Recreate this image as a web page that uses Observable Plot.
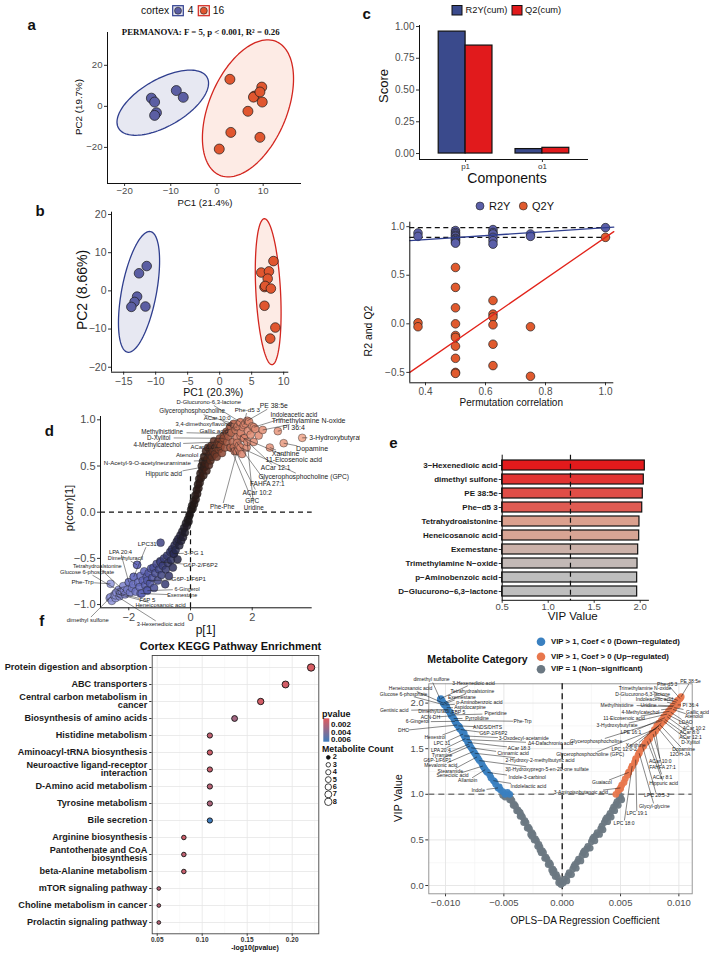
<!DOCTYPE html>
<html><head><meta charset="utf-8">
<script src="https://cdn.jsdelivr.net/npm/d3@7"></script>
<script src="https://cdn.jsdelivr.net/npm/@observablehq/plot@0.6"></script>
<style>
body{margin:0;background:#fff;}
#root{position:relative;width:709px;height:955px;overflow:hidden;background:#fff;font-family:"Liberation Sans",Arial,Helvetica,sans-serif;color:#000;}
.abs{position:absolute;white-space:nowrap;line-height:1;}
</style></head><body><div id="root"></div>
<script>
// ======================= DATA =======================
// (a) PCA, cortex groups 4 and 16
const aPC1_4 = [-14.2,-13.5,-13.1,-13.5,-8.8,-7.3];
const aPC2_4 = [4.0,2.1,-3.1,-4.4,7.7,4.4];
const aPC1_16 = [2.8,9.7,8.1,7.9,9.3,9.8,6.7,3.0,9.3,0.5];
const aPC2_16 = [13.2,9.4,5.0,4.5,7.0,2.1,-2.4,-12.7,-15.1,-20.8];
const aTicksX = [-20,-10,0,10], aTicksY = [-20,0,20];
const aTitle = "PERMANOVA: F = 5, p < 0.001, R\u00B2 = 0.26";
// (b) second PCA
const bPC1_4 = [-11.4,-12.6,-12.9,-13.3,-13.8,-11.6];
const bPC2_4 = [6.5,4.6,-1.5,-2.9,-4.2,-4.1];
const bPC1_16 = [8.4,6.5,7.7,7.5,7.0,7.1,8.0,7.0,8.7,7.9];
const bPC2_16 = [7.8,4.8,5.1,3.2,1.0,1.3,0.6,-3.9,-9.6,-12.5];
const bTicksX = [-15,-10,-5,0,5,10], bTicksY = [-20,-10,0,10,20];
// (c) model scores
const cComponents = ["p1","o1"];
const cSeries = ["R2Y(cum)","Q2(cum)"];
const cR2Y = [0.96,0.035];
const cQ2 = [0.85,0.045];
const cTicksY = [0,0.25,0.5,0.75,1];
// permutation test
const permX_R2Y = [0.375,0.375,0.5,0.5,0.5,0.5,0.5,0.5,0.5,0.5,0.5,0.5,0.625,0.625,0.625,0.625,0.625,0.625,0.75,0.75,1.0];
const permY_R2Y = [0.935,0.90,0.96,0.94,0.925,0.91,0.90,0.88,0.87,0.856,0.84,0.83,0.97,0.94,0.925,0.89,0.856,0.82,0.925,0.90,0.99];
const permX_Q2Y = [0.375,0.375,0.5,0.5,0.5,0.5,0.5,0.5,0.5,0.5,0.5,0.5,0.625,0.625,0.625,0.625,0.625,0.625,0.75,0.75,1.0];
const permY_Q2Y = [0.01,-0.03,0.58,0.375,0.165,0.0,-0.12,-0.14,-0.23,-0.355,-0.50,-0.51,0.24,0.10,0.07,-0.01,-0.21,-0.43,-0.03,-0.54,0.89];
const permIntercept = {R2Y: 0.785, Q2Y: -1.24};
const permObserved = {R2Y: 0.99, Q2Y: 0.89};
const permTicksX = [0.4,0.6,0.8,1.0], permTicksY = [-0.5,0,0.5,1.0];
// (d) S-plot points [p1, pcorr]
const sLower = [[-2.62,-0.93],[-2.55,-0.96],[-2.48,-0.90],[-2.40,-0.87],[-2.43,-0.93],[-2.33,-0.84],[-2.30,-0.91],[-2.22,-0.86],[-2.18,-0.80],[-2.12,-0.89],[-2.05,-0.84],[-2.00,-0.76],[-1.96,-0.87],[-1.90,-0.82],[-1.84,-0.70],[-1.86,-0.78],[-1.78,-0.86],[-1.73,-0.57],[-1.70,-0.76],[-1.65,-0.81],[-1.62,-0.69],[-1.58,-0.88],[-1.55,-0.74],[-1.50,-0.64],[-1.47,-0.79],[-1.42,-0.70],[-1.40,-0.84],[-1.36,-0.66],[-1.31,-0.77],[-1.28,-0.61],[-1.24,-0.71],[-1.20,-0.60],[-1.18,-0.82],[-1.14,-0.66],[-1.10,-0.56],[-1.06,-0.74],[-1.02,-0.62],[-0.98,-0.53],[-0.97,-0.33],[-0.94,-0.68],[-0.90,-0.58],[-0.86,-0.50],[-0.82,-0.78],[-0.80,-0.62],[-0.76,-0.47],[-0.73,-0.55],[-0.70,-0.69],[-0.66,-0.43],[-0.63,-0.52],[-0.60,-0.40],[-0.57,-0.60],[-0.54,-0.45],[-0.52,-0.36],[-0.48,-0.41],[-0.45,-0.32],[-0.42,-0.51],[-0.40,-0.29],[-0.36,-0.36],[-0.33,-0.25],[-0.30,-0.31],[-0.27,-0.21],[-0.24,-0.27],[-0.21,-0.17],[-0.18,-0.22],[-0.15,-0.12],[-0.12,-0.15],[-0.09,-0.08],[-0.06,-0.10],[-0.04,-0.04],[-0.02,-0.02]];
const sUpper = [[0.02,0.03],[0.05,0.07],[0.07,0.04],[0.10,0.12],[0.12,0.09],[0.15,0.18],[0.17,0.14],[0.20,0.24],[0.22,0.20],[0.24,0.30],[0.26,0.26],[0.28,0.36],[0.30,0.32],[0.32,0.42],[0.34,0.37],[0.36,0.50],[0.38,0.45],[0.40,0.55],[0.42,0.40],[0.44,0.60],[0.46,0.49],[0.48,0.53],[0.50,0.66],[0.52,0.45],[0.55,0.58],[0.57,0.70],[0.60,0.51],[0.62,0.63],[0.65,0.56],[0.68,0.72],[0.70,0.60],[0.73,0.66],[0.76,0.77],[0.79,0.63],[0.82,0.70],[0.85,0.60],[0.88,0.75],[0.92,0.68],[0.95,0.80],[0.98,0.72],[1.02,0.64],[1.05,0.78],[1.08,0.83],[1.12,0.70],[1.16,0.87],[1.19,0.76],[1.23,0.82],[1.27,0.91],[1.30,0.70],[1.33,0.86],[1.37,0.76],[1.40,0.95],[1.43,0.66],[1.46,0.89],[1.50,0.81],[1.53,0.93],[1.57,0.72],[1.60,0.97],[1.63,0.86],[1.67,0.63],[1.70,0.92],[1.74,0.80],[1.78,0.96],[1.82,0.70],[1.86,0.88],[1.90,0.98],[1.95,0.84],[2.00,0.93],[2.05,0.76],[2.10,0.90],[2.21,0.83]];
// labelled S-plot metabolites: name, p1, pcorr
const sLabNames = ["D-Glucurono-6,3-lactone","PE 38:5e","Glycerophosphocholine","Phe-d5 3","Indoleacetic acid","ACar 10:0","Trimethylamine N-oxide","3,4-dimethoxyflavonol","PI 36:4","Methylhistidine","Gallic acid","3-Hydroxybutyrate","D-Xylitol","4-Methylcatechol","ACar 6:0","Dopamine","Xanthine","Atenolol","11-Eicosenoic acid","N-Acetyl-9-O-acetylneuraminate","ACar 12:1","Hippuric acid","Glycerophosphocholine (GPC)","FAHFA 27:1","ACar 10:2","GPC","Phe-Phe","Uridine","LPC31","LPA 20:4","Dimethyluracil","Tetrahydroalstonine","Glucose 6-phosphate","Phe-Trp","3-PG 1","G6P-2/F6P2","G6P-1/F6P1","6-Gingerol","Exemestane","F6P 5","Heneicosanoic acid","dimethyl sulfone","3-Hexenedioic acid"];
const sLabP1 = [1.62,1.84,1.40,1.73,2.05,1.30,2.34,1.51,2.83,1.19,1.27,3.62,1.08,0.92,0.97,3.02,2.57,0.65,1.73,0.54,1.62,0.43,1.62,1.51,1.40,1.30,1.51,1.84,-1.84,-2.0,-1.73,-2.16,-2.27,-2.59,-0.54,-0.97,-1.40,-1.40,-1.62,-2.27,-2.43,-2.59,-2.43];
const sLabPcorr = [0.974,0.99,0.957,0.945,0.92,0.93,0.89,0.92,0.877,0.85,0.87,0.805,0.80,0.76,0.70,0.747,0.70,0.62,0.80,0.56,0.83,0.49,0.70,0.75,0.70,0.70,0.66,0.76,-0.70,-0.757,-0.57,-0.85,-0.86,-0.775,-0.45,-0.54,-0.74,-0.85,-0.88,-0.88,-0.88,-0.92,-0.90];
// label placement (data units) as repelled in the original, and label size
const sLabLx = [0.59,2.70,0.055,1.84,3.35,0.865,3.83,0.43,3.35,-0.92,0.755,4.75,-1.03,-1.08,0.38,3.94,3.08,-0.11,3.35,-1.40,2.76,-0.865,3.67,2.49,2.16,2.0,1.03,2.05,-1.40,-2.27,-2.11,-3.02,-3.35,-3.50,0.11,0.32,-0.055,-0.11,-0.27,-1.40,-0.97,-3.33,-0.97];
const sLabLy = [1.19,1.155,1.093,1.11,1.054,1.02,0.99,0.95,0.917,0.866,0.884,0.81,0.805,0.733,0.70,0.686,0.632,0.624,0.57,0.535,0.48,0.41,0.383,0.303,0.206,0.123,0.062,0.051,-0.342,-0.43,-0.496,-0.583,-0.648,-0.757,-0.44,-0.577,-0.728,-0.833,-0.898,-0.956,-1.01,-1.17,-1.21];
const sLabSize = [5.9,6.8,6.3,6.2,6.3,6,7,5.8,7,6.3,6.2,6.8,6.3,6.3,6,7,7,6.2,6.8,6.1,6.6,6.3,6.7,6.5,6.5,6.5,6.3,6.3,6.2,5.8,5.6,5.6,5.7,6.2,6.2,6.2,6.2,5.4,5.4,6,5.8,5.8,5.6];
const sTicksX = [-2,0,2], sTicksY = [-1,-0.5,0,0.5,1];
// (e) VIP top 10
const eNames = ["3\u2212Hexenedioic acid","dimethyl sulfone","PE 38:5e","Phe\u2212d5 3","Tetrahydroalstonine","Heneicosanoic acid","Exemestane","Trimethylamine N\u2212oxide","p\u2212Aminobenzoic acid","D\u2212Glucurono\u22126,3\u2212lactone"];
const eVIP = [2.05,2.039,2.028,2.022,1.992,1.989,1.978,1.971,1.967,1.967];
const eThreshold = 1.242;
const eTicksX = [0.5,1.0,1.5,2.0];
// (f) KEGG enrichment
const fPathways = ["Protein digestion and absorption","ABC transporters","Central carbon metabolism in\ncancer","Biosynthesis of amino acids","Histidine metabolism","Aminoacyl-tRNA biosynthesis","Neuroactive ligand-receptor\ninteraction","D-Amino acid metabolism","Tyrosine metabolism","Bile secretion","Arginine biosynthesis","Pantothenate and CoA\nbiosynthesis","beta-Alanine metabolism","mTOR signaling pathway","Choline metabolism in cancer","Prolactin signaling pathway"];
const fNegLogP = [0.221,0.1926,0.165,0.136,0.1085,0.1085,0.1085,0.1085,0.1085,0.1085,0.0796,0.0796,0.0796,0.0518,0.0518,0.0518];
const fCount = [8,7,6,5,4,4,4,4,4,4,3,3,3,2,2,2];
const fPvalue = [0.0006,0.0008,0.0008,0.0026,0.0015,0.0010,0.0013,0.0018,0.0022,0.0063,0.0010,0.0015,0.0012,0.0018,0.0018,0.0018];
const fTicksX = [0.05,0.10,0.15,0.20], fMinorX = [0.075,0.125,0.175,0.225];
const fLegendP = [0.002,0.004,0.006], fLegendCount = [2,3,4,5,6,7,8];
// volcano: non-significant [coef, vip]
const vNS = [[-0.0001,0.01],[-0.0002,0.05],[-0.0003,0.03],[-0.0004,0.09],[-0.0005,0.12],[-0.0006,0.10],[-0.0007,0.16],[-0.0008,0.18],[-0.0009,0.17],[-0.0010,0.23],[-0.0011,0.25],[-0.0012,0.23],[-0.0013,0.29],[-0.0014,0.31],[-0.0015,0.30],[-0.0016,0.36],[-0.0017,0.38],[-0.0018,0.36],[-0.0019,0.42],[-0.0020,0.45],[-0.0021,0.43],[-0.0022,0.49],[-0.0023,0.51],[-0.0024,0.50],[-0.0025,0.56],[-0.0026,0.58],[-0.0027,0.56],[-0.0028,0.62],[-0.0029,0.64],[-0.0030,0.63],[-0.0031,0.69],[-0.0032,0.71],[-0.0033,0.69],[-0.0034,0.75],[-0.0035,0.77],[-0.0036,0.76],[-0.0037,0.81],[-0.0038,0.83],[-0.0039,0.82],[-0.0040,0.87],[-0.0041,0.89],[-0.0042,0.88],[-0.0043,0.93],[-0.0044,0.95],[-0.0045,0.94],[-0.0046,0.98],[-0.0047,0.99],[-0.0049,0.97],[-0.0051,0.99],[-0.0036,0.80],[-0.0026,0.54],[-0.0019,0.39],[-0.0008,0.14],
 [0.0001,0.03],[0.0002,0.07],[0.0004,0.05],[0.0005,0.11],[0.0006,0.14],[0.0008,0.12],[0.0009,0.18],[0.0010,0.21],[0.0012,0.19],[0.0013,0.26],[0.0014,0.29],[0.0016,0.27],[0.0017,0.33],[0.0018,0.36],[0.0020,0.34],[0.0021,0.40],[0.0022,0.43],[0.0024,0.41],[0.0025,0.48],[0.0026,0.51],[0.0028,0.49],[0.0029,0.55],[0.0030,0.58],[0.0032,0.56],[0.0033,0.62],[0.0034,0.65],[0.0035,0.61],[0.0036,0.69],[0.0037,0.72],[0.0039,0.70],[0.0040,0.76],[0.0041,0.79],[0.0042,0.75],[0.0043,0.83],[0.0044,0.86],[0.0045,0.82],[0.0046,0.89],[0.0047,0.92],[0.0048,0.88],[0.0049,0.95],[0.0050,0.97],[0.0051,0.94],[0.0049,0.99],[0.0027,0.53],[0.0019,0.38],[0.0011,0.23],[0.0038,0.74]];
const vDown = [[-0.0045,1.00],[-0.0047,1.02],[-0.0049,1.00],[-0.0051,1.03],[-0.0053,1.05],[-0.0054,1.08],[-0.0057,1.11],[-0.0058,1.14],[-0.0061,1.18],[-0.0062,1.21],[-0.0065,1.25],[-0.0067,1.29],[-0.0069,1.34],[-0.0072,1.39],[-0.0074,1.43],[-0.0077,1.49],[-0.0080,1.56],[-0.0082,1.62],[-0.0084,1.67],[-0.0086,1.69],[-0.0088,1.74],[-0.0091,1.78],[-0.0094,1.85],[-0.0096,1.90],[-0.0099,1.96],[-0.0103,2.03]];
const vUp = [[0.0046,1.00],[0.0048,1.04],[0.0050,1.06],[0.0051,1.10],[0.0053,1.13],[0.0054,1.17],[0.0056,1.21],[0.0057,1.24],[0.0059,1.28],[0.0060,1.31],[0.0062,1.35],[0.0063,1.39],[0.0065,1.43],[0.0066,1.46],[0.0068,1.50],[0.0070,1.53],[0.0071,1.56],[0.0073,1.60],[0.0075,1.63],[0.0077,1.67],[0.0079,1.71],[0.0081,1.75],[0.0083,1.78],[0.0085,1.81],[0.0087,1.85],[0.0089,1.88],[0.0091,1.91],[0.0093,1.94],[0.0095,1.97],[0.0097,2.00],[0.0099,2.02],[0.0101,2.05]];
// labelled down-regulated: name, coef, vip
const vDownNames = ["dimethyl sulfone","3-Hexenedioic acid","Heneicosanoic acid","Tetrahydroalstonine","Glucose 6-phosphate","Exemestane","p-Aminobenzoic acid","Aspidocarpine","Gentisic acid","Dimethyluracil","FBP 5","Piperidine","ACN-DH","Pyrrolidine","Phe-Trp","6-Gingerol","DHC","ANDS/DHTS","Hexestrol","G6P-2/F6P2","LPC 31","3-Oxodecyl-acetamide","LPA 20:4","\u03944-Dafachronic acid","ACar 18:3","Tyramine","G6P-1/F6P1","Cinnamic acid","Mevalonic acid","2-Hydroxy-2-methylbutyric acid","Stearamide","3\u03B2-Hydroxypregn-5-en-20-one sulfate","Senecioic acid","Allantoin","Indole-3-carbinol","Indolelactic acid","Indole"];
const vDownCoef = [-0.01045,-0.0104,-0.0102,-0.0102,-0.0101,-0.0101,-0.0100,-0.0099,-0.0098,-0.0097,-0.0096,-0.0095,-0.0095,-0.0093,-0.0092,-0.0092,-0.0090,-0.0089,-0.0088,-0.0087,-0.0085,-0.0084,-0.0083,-0.0082,-0.0081,-0.0080,-0.0079,-0.0078,-0.0076,-0.0075,-0.0073,-0.0071,-0.0068,-0.0066,-0.0064,-0.0059,-0.0055];
const vDownVIP = [2.04,2.05,2.0,2.0,1.98,1.99,1.98,1.95,1.93,1.91,1.89,1.87,1.86,1.83,1.81,1.80,1.76,1.75,1.72,1.71,1.66,1.64,1.61,1.60,1.57,1.55,1.53,1.51,1.47,1.45,1.41,1.37,1.31,1.27,1.24,1.15,1.07];
const vDownLabX = [-0.0112,-0.0076,-0.0130,-0.0077,-0.0136,-0.0086,-0.0071,-0.0079,-0.0144,-0.0110,-0.0089,-0.0057,-0.0113,-0.0073,-0.0034,-0.0124,-0.0136,-0.0064,-0.0109,-0.0059,-0.0103,-0.0033,-0.0104,-0.0010,-0.0037,-0.0103,-0.0107,-0.0042,-0.0104,-0.0019,-0.0096,-0.0013,-0.0094,-0.0081,-0.0030,-0.0029,-0.0072];
const vDownLabY = [2.255,2.22,2.157,2.13,2.10,2.065,2.003,1.948,1.919,1.905,1.894,1.883,1.843,1.834,1.80,1.795,1.70,1.736,1.62,1.663,1.554,1.609,1.48,1.558,1.505,1.425,1.371,1.444,1.316,1.371,1.253,1.272,1.206,1.151,1.181,1.089,1.042];
// labelled up-regulated
const vUpNames = ["PE 38:5e","Phe-d5 3","Trimethylamine N-oxide","D-Glucurono-6,3-lactone","Indoleacetic acid","PI 36:4","Methylhistidine","Uridine","4-Methylcatechol","Gallic acid","Atenolol","11-Eicosenoic acid","LDAO","3-Hydroxybutyrate","ACar 10:2","ACar 8:0","LPE 16:1","ACar 12:1","Glycerophosphocholine","D-Xylitol","Xanthine","LPC 12:0-2","Dopamine","Glycerophosphocholine (GPC)","12OH-JA","ACar 10:0","FAHFA 27:1","ACar 8:1","Guaiacol","Hippuric acid","LPC 20:5-3","Glycyl-glycine","LPC 19:1","LPC 18:0","3-Aminoisobutanoic acid"];
const vUpCoef = [0.0102,0.0101,0.0099,0.0098,0.0097,0.0099,0.0095,0.0096,0.0094,0.0096,0.0095,0.0092,0.0093,0.0090,0.0091,0.0090,0.0088,0.0088,0.0086,0.0087,0.0085,0.0083,0.0084,0.0081,0.0082,0.0080,0.0078,0.0075,0.0057,0.0073,0.0069,0.0066,0.0063,0.0060,0.0050];
const vUpVIP = [2.07,2.05,2.03,2.01,1.99,1.98,1.96,1.97,1.94,1.95,1.93,1.91,1.90,1.88,1.87,1.85,1.84,1.82,1.81,1.80,1.78,1.75,1.76,1.72,1.73,1.69,1.66,1.61,1.24,1.58,1.52,1.45,1.38,1.31,1.07];
const vUpLabX = [0.0110,0.0090,0.0071,0.0069,0.0079,0.0110,0.0047,0.0074,0.0067,0.0116,0.0113,0.0053,0.0106,0.0047,0.0113,0.0109,0.0059,0.0110,0.0029,0.0110,0.0063,0.0053,0.0104,0.0024,0.0101,0.0084,0.0086,0.0086,0.0034,0.0087,0.0081,0.0079,0.0064,0.0053,0.0016];
const vUpLabY = [2.24,2.21,2.157,2.10,2.04,1.98,1.98,1.98,1.90,1.90,1.853,1.828,1.79,1.751,1.725,1.674,1.68,1.62,1.582,1.571,1.535,1.488,1.488,1.436,1.436,1.363,1.29,1.188,1.126,1.122,0.987,0.87,0.786,0.683,1.016];
const vTicksX = [-0.01,-0.005,0,0.005,0.01], vMinorX = [-0.0075,-0.0025,0.0025,0.0075];
const vTicksY = [0,0.5,1,1.5,2], vMinorY = [0.25,0.75,1.25,1.75];
const vCategories = ["VIP > 1, Coef < 0 (Down\u2212regulated)","VIP > 1, Coef > 0 (Up\u2212regulated)","VIP = 1 (Non\u2212significant)"];

// ======================= HELPERS =======================
const FONT = '"Liberation Sans", Arial, Helvetica, sans-serif';
const root = document.getElementById("root");
const BLUE = "#5B5EA3", RED = "#E0562F";
const VCOL = ["#3A80C0","#E8774D","#6B7882"];
function st(extra){return Object.assign({background:"transparent",fontFamily:FONT,fontSize:"10px",color:"#333",overflow:"visible"},extra||{});}
function put(el,left,top,ov){el.style.position="absolute";el.style.left=left+"px";el.style.top=top+"px";el.style.background="transparent";el.style.overflow=ov||"visible";el.style.maxWidth="none";root.appendChild(el);return el;}
function styleAxis(svg,axis,o){o=o||{};svg.querySelectorAll(`[aria-label^="${axis}-axis"] text`).forEach(t=>{t.setAttribute("font-size",o.size||10);t.style.fontSize=(o.size||10)+"px";t.setAttribute("font-weight",o.bold?"bold":"normal");t.setAttribute("fill",o.color||"#4d4d4d");});}
function txt(s,x,y,o){o=o||{};const d=document.createElement("div");d.className="abs";d.textContent=s;d.style.left=x+"px";d.style.top=y+"px";d.style.fontSize=(o.size||10)+"px";if(o.bold)d.style.fontWeight="bold";if(o.family)d.style.fontFamily=o.family;d.style.color=o.color||"#111";const ax=o.anchor==="start"?"0%":o.anchor==="end"?"-100%":"-50%";d.style.transform=`translate(${ax},-50%)`+(o.rotate?` rotate(${o.rotate}deg)`:"");root.appendChild(d);return d;}
function pts(xs,ys){return xs.map((x,i)=>({x,y:ys[i]}));}
function ellipse(xs,ys){const n=xs.length,mx=d3.mean(xs),my=d3.mean(ys);let sxx=0,syy=0,sxy=0;for(let i=0;i<n;i++){const dx=xs[i]-mx,dy=ys[i]-my;sxx+=dx*dx;syy+=dy*dy;sxy+=dx*dy;}sxx/=n-1;syy/=n-1;sxy/=n-1;const df=n-1,F=df/2*(Math.pow(0.05,-2/df)-1),r=Math.sqrt(2*F);const a=Math.sqrt(sxx),b=sxy/a,c=Math.sqrt(syy-b*b);return d3.range(121).map(i=>{const t=2*Math.PI*i/120;return {x:mx+r*a*Math.cos(t),y:my+r*(b*Math.cos(t)+c*Math.sin(t))};});}
function leaders(rows,sx,sy,fsDefault){const out=[];for(const r of rows){const fs=r.fs||fsDefault;const cx=sx(r.lx),cy=sy(r.ly),tx=sx(r.px),ty=sy(r.py);const dx=tx-cx,dy=ty-cy;const hw=r.name.length*fs*0.25+0.8,hh=fs*0.55;const t=Math.min(dx?hw/Math.abs(dx):Infinity,dy?hh/Math.abs(dy):Infinity);if(t>=1)continue;out.push({x1:sx.invert(cx+t*dx),y1:sy.invert(cy+t*dy),x2:r.px,y2:r.py});}return out;}

// ======================= (a) =======================
{
 const dx=[-23.7,18.3], dy=[-37.6,36];
 const svg=Plot.plot({width:360,height:200,marginLeft:107,marginRight:59,marginTop:32,marginBottom:17,style:st(),
  x:{domain:dx,ticks:aTicksX,tickFormat:d3.format("d"),tickSize:3,tickPadding:1,label:null},
  y:{domain:dy,ticks:aTicksY,tickFormat:d3.format("d"),tickSize:3,tickPadding:2,label:null},
  marks:[
   Plot.line(ellipse(aPC1_4,aPC2_4),{x:"x",y:"y",fill:"#45519E",fillOpacity:0.13,stroke:"#2F3E8E",strokeWidth:1.3}),
   Plot.line(ellipse(aPC1_16,aPC2_16),{x:"x",y:"y",fill:"#F07A50",fillOpacity:0.15,stroke:"#D3261F",strokeWidth:1.3}),
   Plot.ruleX([dx[0]],{stroke:"#111"}),Plot.ruleY([dy[0]],{stroke:"#111"}),
   Plot.dot(pts(aPC1_4,aPC2_4),{x:"x",y:"y",r:5,fill:BLUE,stroke:"#1a1a1a",strokeWidth:0.7}),
   Plot.dot(pts(aPC1_16,aPC2_16),{x:"x",y:"y",r:5,fill:RED,stroke:"#1a1a1a",strokeWidth:0.7})
  ]});
 styleAxis(svg,"x",{size:9.6});styleAxis(svg,"y",{size:9.6});
 put(svg,0,0);
}
// ======================= (b) =======================
{
 const dx=[-16.9,10.8], dy=[-21.3,20.6];
 const svg=Plot.plot({width:360,height:190,marginLeft:111,marginRight:71.7,marginTop:11.7,marginBottom:18.3,style:st(),
  x:{domain:dx,ticks:bTicksX,tickFormat:d3.format("d"),tickSize:3,tickPadding:2,label:null},
  y:{domain:dy,ticks:bTicksY,tickFormat:d3.format("d"),tickSize:3,tickPadding:2,label:null},
  marks:[
   Plot.line(ellipse(bPC1_4,bPC2_4),{x:"x",y:"y",fill:"#45519E",fillOpacity:0.13,stroke:"#2F3E8E",strokeWidth:1.3}),
   Plot.line(ellipse(bPC1_16,bPC2_16),{x:"x",y:"y",fill:"#F07A50",fillOpacity:0.15,stroke:"#D3261F",strokeWidth:1.3}),
   Plot.ruleX([dx[0]],{stroke:"#111"}),Plot.ruleY([dy[0]],{stroke:"#111"}),
   Plot.dot(pts(bPC1_4,bPC2_4),{x:"x",y:"y",r:4.8,fill:BLUE,stroke:"#1a1a1a",strokeWidth:0.7}),
   Plot.dot(pts(bPC1_16,bPC2_16),{x:"x",y:"y",r:4.8,fill:RED,stroke:"#1a1a1a",strokeWidth:0.7})
  ]});
 styleAxis(svg,"x",{size:10.5});styleAxis(svg,"y",{size:10.5});
 put(svg,0,200);
}
// ======================= (c) =======================
{
 const rows=[];
 cComponents.forEach((c,i)=>{rows.push({s:cSeries[0],x1:i+0.65,x2:i+1,v:cR2Y[i]});rows.push({s:cSeries[1],x1:i+1,x2:i+1.35,v:cQ2[i]});});
 const dx=[0.4,2.6], dy=[-0.047,1.008];
 const svg=Plot.plot({width:349,height:175,marginLeft:59,marginRight:121,marginTop:25,marginBottom:16,style:st(),
  x:{domain:dx,ticks:[1,2],tickFormat:d=>cComponents[Math.round(d)-1],tickSize:3,tickPadding:1,label:null},
  y:{domain:dy,ticks:cTicksY,tickFormat:d3.format(".2f"),tickSize:3,tickPadding:2,label:null},
  color:{domain:cSeries,range:["#3A4A8C","#E11A1C"]},
  marks:[
   Plot.rect(rows,{x1:"x1",x2:"x2",y1:0,y2:"v",fill:"s",stroke:"#111",strokeWidth:1.2}),
   Plot.ruleX([dx[0]],{stroke:"#111"}),Plot.ruleY([dy[0]],{stroke:"#111"})
  ]});
 styleAxis(svg,"x",{size:8,color:"#333"});styleAxis(svg,"y",{size:10});
 put(svg,360,0);
}
// ======================= permutation =======================
{
 const dx=[0.3477,1.0277], dy=[-0.607,1.046];
 const lineOf=k=>dx.map(x=>({x,y:permIntercept[k]+(permObserved[k]-permIntercept[k])*x}));
 const svg=Plot.plot({width:349,height:200,marginLeft:49.3,marginRight:95.7,marginTop:26.7,marginBottom:12.7,style:st(),
  x:{domain:dx,ticks:permTicksX,tickFormat:d3.format(".1f"),tickSize:3,tickPadding:2,label:null},
  y:{domain:dy,ticks:permTicksY,tickFormat:d3.format(".1f"),tickSize:3,tickPadding:2,label:null},
  marks:[
   Plot.ruleY([permObserved.R2Y,permObserved.Q2Y],{stroke:"#111",strokeWidth:1.1,strokeDasharray:"5,3.5"}),
   Plot.dot(pts(permX_Q2Y,permY_Q2Y),{x:"x",y:"y",r:4.3,fill:"#E05A2E",stroke:"#222",strokeWidth:0.7}),
   Plot.dot(pts(permX_R2Y,permY_R2Y),{x:"x",y:"y",r:4.3,fill:"#5B5FA8",stroke:"#222",strokeWidth:0.7}),
   Plot.line(lineOf("R2Y"),{x:"x",y:"y",stroke:"#2F3E8E",strokeWidth:1.3}),
   Plot.line(lineOf("Q2Y"),{x:"x",y:"y",stroke:"#E2231A",strokeWidth:1.3}),
   Plot.ruleX([dx[0]],{stroke:"#111"}),Plot.ruleY([dy[0]],{stroke:"#111"})
  ]});
 styleAxis(svg,"x",{size:10});styleAxis(svg,"y",{size:10});
 put(svg,360,195);
}
// ======================= (d) S-plot =======================
{
 const dx=[-2.917,3.944], dy=[-1.035,1.036];
 const W=360,H=250,ml=100,mr=48.3,mt=31,mb=27.7;
 const sx=d3.scaleLinear(dx,[ml,W-mr]), sy=d3.scaleLinear(dy,[H-mb,mt]);
 const labs=sLabNames.map((n,i)=>({name:n,px:sLabP1[i],py:sLabPcorr[i],lx:sLabLx[i],ly:sLabLy[i],fs:sLabSize[i]}));
 const all=[...sLower,...sUpper].map(([x,y])=>({x,y})).concat(labs.map(l=>({x:l.px,y:l.py})));
 all.sort((a,b)=>a.x-b.x);
 const svg=Plot.plot({width:W,height:H,marginLeft:ml,marginRight:mr,marginTop:mt,marginBottom:mb,style:st(),
  x:{domain:dx,ticks:sTicksX,tickFormat:d3.format("d"),tickSize:3,tickPadding:2,label:null},
  y:{domain:dy,ticks:sTicksY,tickFormat:d3.format(".1f"),tickSize:3,tickPadding:2,label:null},
  color:{type:"linear",domain:[-2.6,-1.5,-0.6,0,0.5,1.0,1.6,3.6],range:["#9296DA","#5A60B5","#2C2F5E","#1A1414","#3C2018","#8B4530","#D9826A","#F0A488"]},
  marks:[
   Plot.ruleY([0],{stroke:"#111",strokeWidth:1.2,strokeDasharray:"5,4"}),
   Plot.ruleX([0],{y1:dy[0],y2:0.42,stroke:"#111",strokeWidth:1.2,strokeDasharray:"5,4"}),
   Plot.dot(all,{x:"x",y:"y",r:3.9,fill:"x",fillOpacity:0.85,stroke:"#222",strokeOpacity:0.7,strokeWidth:0.6}),
   Plot.link(leaders(labs,sx,sy,6.2),{x1:"x1",y1:"y1",x2:"x2",y2:"y2",stroke:"#222",strokeWidth:0.5}),
   Plot.text(labs,{x:"lx",y:"ly",text:"name",fontSize:"fs",fill:"#1a1a1a"}),
   Plot.ruleX([dx[0]],{stroke:"#111"}),Plot.ruleY([dy[0]],{stroke:"#111"})
  ]});
 styleAxis(svg,"x",{size:11});styleAxis(svg,"y",{size:11});
 put(svg,0,385,"hidden");
}
// ======================= (e) VIP bars =======================
{
 const dx=[0.5,2.1];
 const rows=eNames.map((n,i)=>({name:n,vip:eVIP[i]}));
 const W=349,H=180,ml=141.7,mr=60.1,mt=14.7,mb=19.7;
 const svg=Plot.plot({width:W,height:H,marginLeft:ml,marginRight:mr,marginTop:mt,marginBottom:mb,style:st(),
  x:{domain:dx,ticks:eTicksX,tickFormat:d3.format(".1f"),tickSize:2.5,tickPadding:0,label:null},
  y:{domain:eNames,paddingInner:0.3,paddingOuter:0.25,tickSize:3,tickPadding:1.5,label:null},
  color:{type:"linear",domain:[1.967,1.992,2.05],range:["#BEBEBE","#DBA08E","#E31A1C"]},
  marks:[
   Plot.barX(rows,{y:"name",x1:dx[0],x2:"vip",fill:"vip",stroke:"#111",strokeWidth:1.2}),
   Plot.ruleX([eThreshold],{stroke:"#111",strokeWidth:1.2,strokeDasharray:"5,4"}),
   Plot.ruleX([dx[0]],{stroke:"#111"})
  ]});
 styleAxis(svg,"x",{size:9.5});styleAxis(svg,"y",{size:8,bold:true,color:"#1a1a1a"});
 d3.select(svg).append("line").attr("x1",ml).attr("x2",W-mr).attr("y1",H-mb).attr("y2",H-mb).attr("stroke","#111");
 put(svg,360,440);
}
// ======================= (f) KEGG =======================
{
 const dx=[0.04444,0.22956];
 const rows=fPathways.map((p,i)=>({path:p,x:fNegLogP[i],count:fCount[i],p:fPvalue[i]}));
 const svg=Plot.plot({width:360,height:325,marginLeft:151.7,marginRight:41.7,marginTop:25,marginBottom:21.7,style:st(),
  x:{domain:dx,ticks:fTicksX,tickFormat:d3.format(".2f"),tickSize:2.5,tickPadding:1.5,label:null},
  y:{type:"point",domain:fPathways,padding:0.6,tickSize:2.5,tickFormat:()=>"",label:null},
  r:{type:"sqrt",domain:[0,8],range:[0,3.7]},
  color:{type:"linear",domain:[0.00026,0.0063],range:["#E05A5E","#3F7CBC"]},
  marks:[
   Plot.ruleX(fMinorX,{stroke:"#f2f2f2",strokeWidth:0.5}),
   Plot.ruleX(fTicksX,{stroke:"#e6e6e6",strokeWidth:0.8}),
   Plot.ruleY(fPathways,{stroke:"#e6e6e6",strokeWidth:0.8}),
   Plot.frame({stroke:"#444",strokeWidth:0.9}),
   Plot.dot(rows,{x:"x",y:"path",r:"count",fill:"p",stroke:"#111",strokeWidth:0.9}),
   Plot.text(rows,{y:"path",text:"path",frameAnchor:"left",textAnchor:"end",dx:-5,fontWeight:"bold",fontSize:9.1,lineHeight:0.9,fill:"#1a1a1a"})
  ]});
 styleAxis(svg,"x",{size:6.5,bold:true,color:"#333"});
 put(svg,0,630);
}
// ======================= volcano =======================
{
 const dx=[-0.011434,0.011143], dy=[-0.091,2.2116];
 const W=349,H=325,ml=68.3,mr=17.3,mt=53.3,mb=61.7;
 const sx=d3.scaleLinear(dx,[ml,W-mr]), sy=d3.scaleLinear(dy,[H-mb,mt]);
 const down=vDownNames.map((n,i)=>({name:n,px:vDownCoef[i],py:vDownVIP[i],lx:vDownLabX[i],ly:vDownLabY[i]}));
 const up=vUpNames.map((n,i)=>({name:n,px:vUpCoef[i],py:vUpVIP[i],lx:vUpLabX[i],ly:vUpLabY[i]}));
 const P=a=>a.map(([x,y])=>({x,y}));
 const dn=P(vDown).concat(down.map(d=>({x:d.px,y:d.py})));
 const upp=P(vUp).concat(up.map(d=>({x:d.px,y:d.py})));
 const svg=Plot.plot({width:W,height:H,marginLeft:ml,marginRight:mr,marginTop:mt,marginBottom:mb,style:st(),
  x:{domain:dx,ticks:vTicksX,tickFormat:d3.format(".3f"),tickSize:3,tickPadding:2,label:null},
  y:{domain:dy,ticks:vTicksY,tickFormat:d3.format(".1f"),tickSize:3,tickPadding:2,label:null},
  marks:[
   Plot.ruleX(vMinorX,{stroke:"#f1f1f1",strokeWidth:0.6}),Plot.ruleY(vMinorY,{stroke:"#f1f1f1",strokeWidth:0.6}),
   Plot.ruleX(vTicksX,{stroke:"#e4e4e4",strokeWidth:0.9}),Plot.ruleY(vTicksY,{stroke:"#e4e4e4",strokeWidth:0.9}),
   Plot.frame({stroke:"#8c8c8c",strokeWidth:0.9}),
   Plot.ruleX([0],{stroke:"#111",strokeWidth:1.3,strokeDasharray:"6,4"}),
   Plot.ruleY([1],{stroke:"#7a7a7a",strokeWidth:1.6,strokeDasharray:"6,4"}),
   Plot.dot(P(vNS),{x:"x",y:"y",r:3.4,fill:VCOL[2],fillOpacity:0.95}),
   Plot.dot(dn,{x:"x",y:"y",r:3.4,fill:VCOL[0],fillOpacity:0.95}),
   Plot.dot(upp,{x:"x",y:"y",r:3.4,fill:VCOL[1],fillOpacity:0.95}),
   Plot.link(leaders(down.concat(up),sx,sy,5),{x1:"x1",y1:"y1",x2:"x2",y2:"y2",stroke:"#111",strokeWidth:0.5}),
   Plot.text(down.concat(up),{x:"lx",y:"ly",text:"name",fontSize:5,fill:"#1a1a1a"})
  ]});
 styleAxis(svg,"x",{size:9.5});styleAxis(svg,"y",{size:9.5});
 put(svg,360,630);
}
// ======================= legends / titles =======================
const ov=d3.create("svg").attr("width",709).attr("height",955).style("position","absolute").style("left","0px").style("top","0px").style("overflow","visible");
root.appendChild(ov.node());
// a legend keys
ov.append("rect").attr("x",172.7).attr("y",5.7).attr("width",10.6).attr("height",10).attr("fill","#E3E4F1").attr("stroke","#2F3E8E").attr("stroke-width",1.2);
ov.append("circle").attr("cx",178).attr("cy",10.7).attr("r",3.5).attr("fill",BLUE).attr("stroke","#222").attr("stroke-width",0.6);
ov.append("rect").attr("x",198.3).attr("y",5.7).attr("width",11).attr("height",10).attr("fill","#FBE2D8").attr("stroke","#D3261F").attr("stroke-width",1.2);
ov.append("circle").attr("cx",203.8).attr("cy",10.7).attr("r",3.5).attr("fill",RED).attr("stroke","#222").attr("stroke-width",0.6);
// c legend keys
ov.append("rect").attr("x",452).attr("y",5.5).attr("width",10).attr("height",9.5).attr("fill","#3A4A8C").attr("stroke","#111");
ov.append("rect").attr("x",512).attr("y",5.5).attr("width",10).attr("height",9.5).attr("fill","#E11A1C").attr("stroke","#111");
// perm legend
ov.append("circle").attr("cx",480).attr("cy",206).attr("r",4).attr("fill","#5B5FA8").attr("stroke","#222").attr("stroke-width",0.6);
ov.append("circle").attr("cx",523.3).attr("cy",206).attr("r",4).attr("fill","#E05A2E").attr("stroke","#222").attr("stroke-width",0.6);
// f colorbar
const grad=ov.append("defs").append("linearGradient").attr("id","pg").attr("x1",0).attr("y1",0).attr("x2",0).attr("y2",1);
grad.append("stop").attr("offset","0%").attr("stop-color","#E05A5E");
grad.append("stop").attr("offset","100%").attr("stop-color","#3F7CBC");
ov.append("rect").attr("x",323.3).attr("y",718.3).attr("width",6).attr("height",23.4).attr("fill","url(#pg)");
const rS=d3.scaleSqrt([0,8],[0,3.7]);
fLegendCount.forEach((c,i)=>{const y=757.4+i*7.4;ov.append("circle").attr("cx",328.3).attr("cy",y).attr("r",rS(c)).attr("fill",i===0?"#111":"none").attr("stroke","#111").attr("stroke-width",0.8);txt(String(c),332.8,y,{size:7.4,bold:true,anchor:"start"});});
fLegendP.forEach((p,i)=>txt(p.toFixed(3),331,725+i*7.6,{size:8,bold:true,anchor:"start"}));
// volcano legend
[641.7,656.7,669.3].forEach((y,i)=>{ov.append("circle").attr("cx",541).attr("cy",y).attr("r",4.3).attr("fill",VCOL[i]);txt(vCategories[i],551,y,{size:7.8,bold:true,anchor:"start"});});

// texts
txt("cortex",141,10.7,{size:10.3,anchor:"start"});
txt("4",190.5,10.7,{size:10.3});txt("16",218.5,10.7,{size:10.3});
txt("a",31.7,24,{size:15,bold:true});
txt(aTitle,200.7,31.7,{size:8.8,bold:true,family:'"Liberation Serif","Times New Roman",serif'});
txt("PC2 (19.7%)",79,107,{size:9.8,rotate:-90,color:"#111"});
txt("PC1 (21.4%)",205,203,{size:9.6});
txt("b",40,210,{size:15,bold:true});
txt("PC2 (8.66%)",81.7,290,{size:14,rotate:-90});
txt("PC1 (20.3%)",213.3,391.5,{size:10.5});
txt("c",366.7,13.3,{size:15,bold:true});
txt("R2Y(cum)",465.5,10.5,{size:9.3,anchor:"start"});
txt("Q2(cum)",525,10.5,{size:9.3,anchor:"start"});
txt("Score",382.5,86,{size:13,rotate:-90});
txt("Components",507,178.3,{size:14});
txt("R2Y",489,206,{size:11,anchor:"start"});
txt("Q2Y",532,206,{size:11,anchor:"start"});
txt("R2 and Q2",368.3,331,{size:10.5,rotate:-90});
txt("Permutation correlation",511.3,403.3,{size:10});
txt("d",49.3,430,{size:15,bold:true});
txt("p(corr)[1]",70,508,{size:11.5,rotate:-90});
txt("p[1]",205.7,630,{size:12});
txt("e",393.3,441.7,{size:15,bold:true});
txt("VIP Value",572.7,617,{size:11.5});
txt("f",41.7,620,{size:15,bold:true});
txt("Cortex KEGG Pathway Enrichment",230.5,646,{size:11,bold:true});
txt("-log10(pvalue)",255,946.7,{size:7,bold:true});
txt("pvalue",322,713.5,{size:9,bold:true,anchor:"start"});
txt("Metabolite Count",322,748.6,{size:8.8,bold:true,anchor:"start"});
txt("Metabolite Category",477.5,659,{size:10.5,bold:true});
txt("VIP Value",398,798,{size:11,rotate:-90});
txt("OPLS\u2212DA Regression Coefficient",585,920.7,{size:10});
</script></body></html>
